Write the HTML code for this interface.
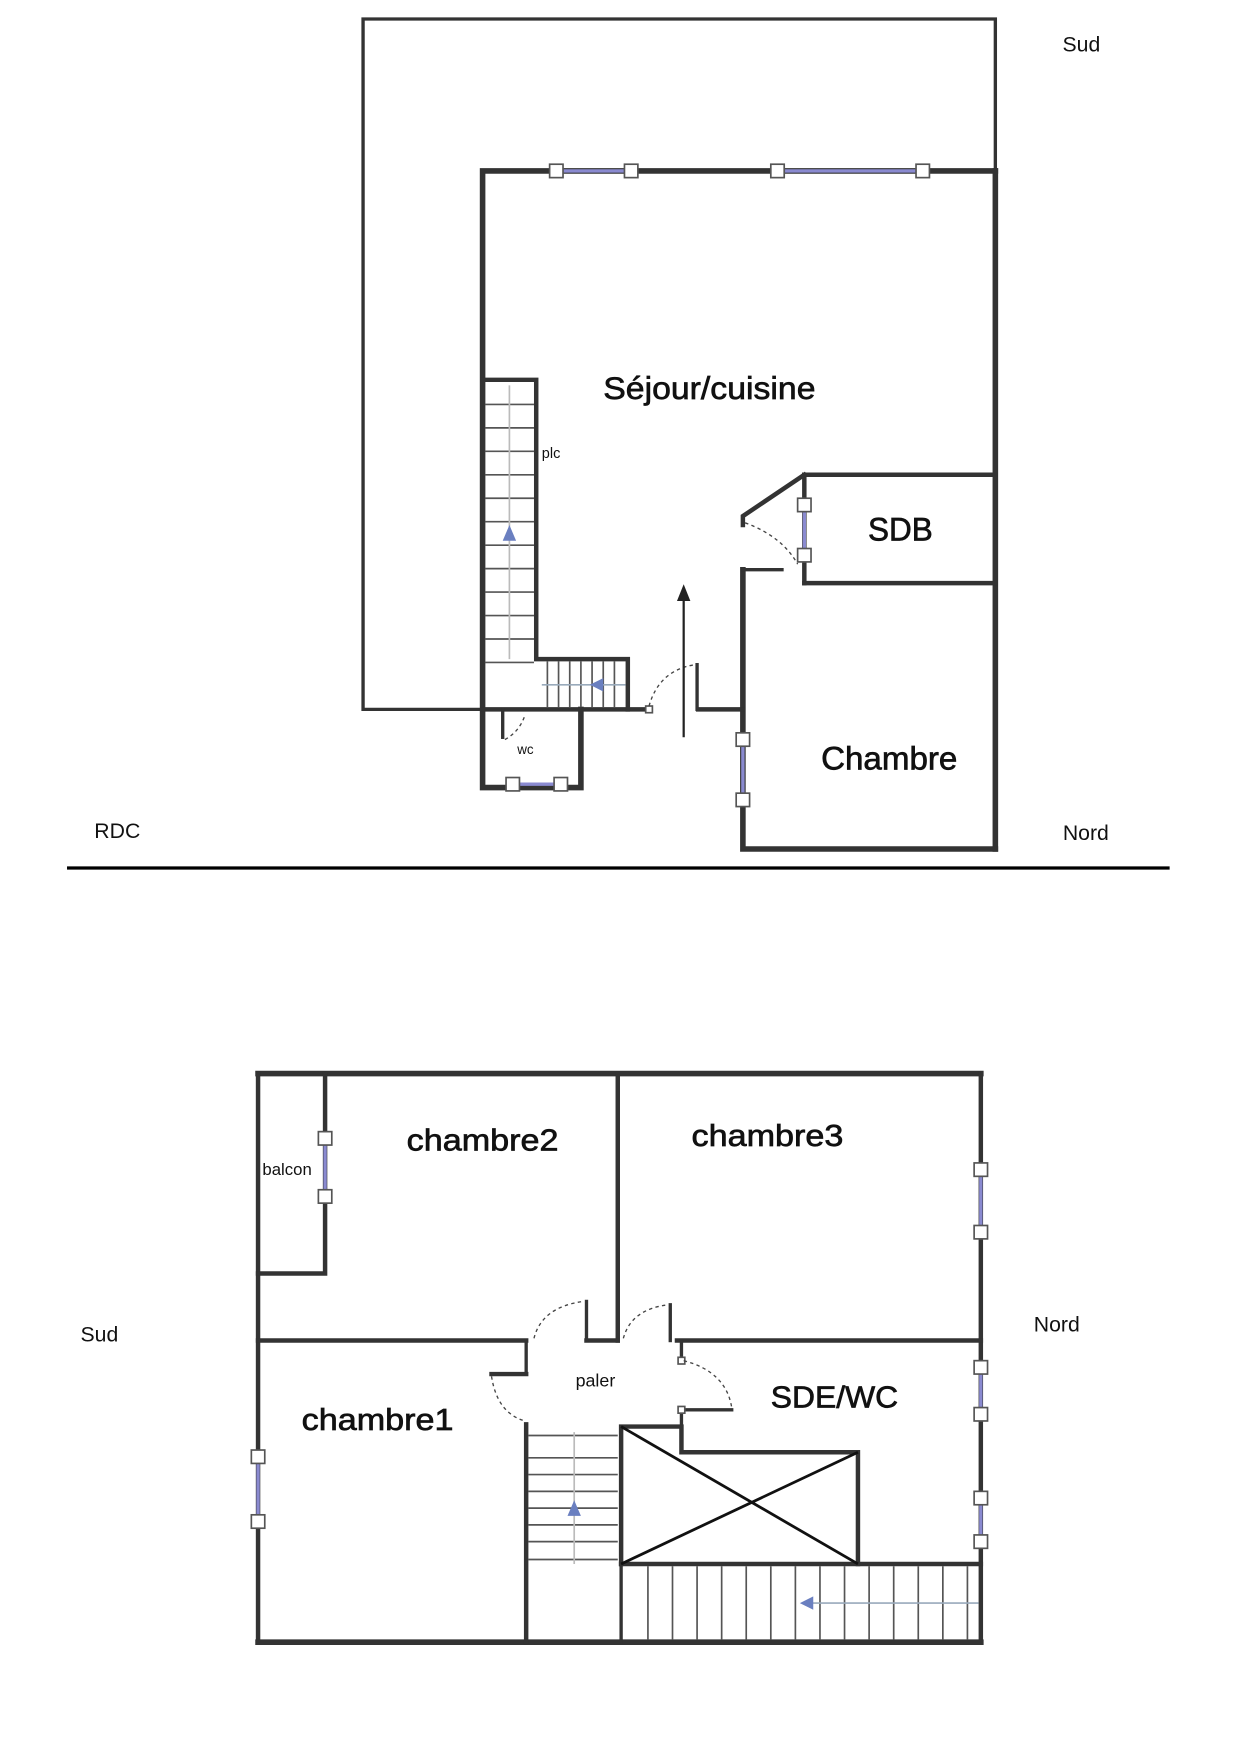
<!DOCTYPE html>
<html><head><meta charset="utf-8"><style>
html,body{margin:0;padding:0;background:#fff;}
svg{display:block}
text{font-family:"Liberation Sans",sans-serif;fill:#111}
.r{stroke:#111;stroke-width:0.6}
</style></head><body>
<svg width="1240" height="1755" viewBox="0 0 1110 1571" xmlns="http://www.w3.org/2000/svg">
<rect width="1110" height="1571" fill="#fff"/>
<g fill="none" stroke="#333" stroke-linecap="square">
<polyline points="432,635 325,635 325,17 891,17 891,153" stroke-width="3"/>
<polyline points="891,153 432,153 432,705 520,705 520,635" stroke-width="5"/>
<line x1="891" y1="153" x2="891" y2="760" stroke-width="5"/>
<polyline points="665,510 665,760 891,760" stroke-width="5"/>
<line x1="432" y1="635" x2="580" y2="635" stroke-width="4"/>
<line x1="625" y1="635" x2="665" y2="635" stroke-width="4"/>
<line x1="624" y1="595" x2="624" y2="635" stroke-width="3"/>
<polyline points="432,340 480,340 480,590 562,590 562,635" stroke-width="4"/>
<line x1="450" y1="635" x2="450" y2="660" stroke-width="3"/>
<line x1="720" y1="425" x2="891" y2="425" stroke-width="4"/>
<line x1="720" y1="522" x2="891" y2="522" stroke-width="4"/>
<line x1="720" y1="425" x2="720" y2="522" stroke-width="4"/>
<polyline points="720,425 665,462 665,470" stroke-width="4"/>
<line x1="665" y1="510" x2="700" y2="510" stroke-width="3"/>
</g>
<g stroke="#555" stroke-width="1.5">
<line x1="434" y1="362" x2="478" y2="362"/><line x1="434" y1="383" x2="478" y2="383"/>
<line x1="434" y1="404" x2="478" y2="404"/><line x1="434" y1="425" x2="478" y2="425"/>
<line x1="434" y1="446" x2="478" y2="446"/><line x1="434" y1="467" x2="478" y2="467"/>
<line x1="434" y1="488" x2="478" y2="488"/><line x1="434" y1="509" x2="478" y2="509"/>
<line x1="434" y1="530" x2="478" y2="530"/><line x1="434" y1="551" x2="478" y2="551"/>
<line x1="434" y1="572" x2="478" y2="572"/><line x1="434" y1="593" x2="478" y2="593"/>
<line x1="490" y1="592" x2="490" y2="633"/><line x1="500" y1="592" x2="500" y2="633"/>
<line x1="510" y1="592" x2="510" y2="633"/><line x1="520" y1="592" x2="520" y2="633"/>
<line x1="530" y1="592" x2="530" y2="633"/><line x1="540" y1="592" x2="540" y2="633"/>
<line x1="550" y1="592" x2="550" y2="633"/>
</g>
<line x1="456" y1="345" x2="456" y2="590" stroke="#bbb" stroke-width="1.5"/>
<line x1="485" y1="613" x2="560" y2="613" stroke="#9ab" stroke-width="1.5"/>
<polygon points="456,470 450,484 462,484" fill="#6a7fc0"/>
<polygon points="528,613 540,607 540,619" fill="#6a7fc0"/>
<g stroke="#8a8ad0" stroke-width="3"><line x1="498" y1="153" x2="565" y2="153"/><line x1="696" y1="153" x2="826" y2="153"/>
<line x1="459" y1="702" x2="502" y2="702"/><line x1="665" y1="662" x2="665" y2="716"/><line x1="720" y1="452" x2="720" y2="497"/></g>
<g fill="#fff" stroke="#555" stroke-width="1.5">
<rect x="492" y="147" width="12" height="12"/><rect x="559" y="147" width="12" height="12"/>
<rect x="690" y="147" width="12" height="12"/><rect x="820" y="147" width="12" height="12"/>
<rect x="453" y="696" width="12" height="12"/><rect x="496" y="696" width="12" height="12"/>
<rect x="659" y="656" width="12" height="12"/><rect x="659" y="710" width="12" height="12"/>
<rect x="714" y="446" width="12" height="12"/><rect x="714" y="491" width="12" height="12"/>
<rect x="578" y="632" width="6" height="6"/>
</g>
<g fill="none" stroke="#444" stroke-width="1.2" stroke-dasharray="3,3">
<path d="M581,632 Q590,600 622,595"/><path d="M667,468 Q700,480 714,505"/><path d="M452,662 Q465,655 470,640"/>
</g>
<line x1="612" y1="660" x2="612" y2="535" stroke="#222" stroke-width="2"/>
<polygon points="612,523 606,538 618,538" fill="#222"/>
<text class="r" x="635" y="357" font-size="28" text-anchor="middle" textLength="190" lengthAdjust="spacingAndGlyphs">Séjour/cuisine</text>
<text class="r" x="806" y="484" font-size="29" text-anchor="middle" textLength="58" lengthAdjust="spacingAndGlyphs">SDB</text>
<text class="r" x="796" y="689" font-size="29" text-anchor="middle" textLength="122" lengthAdjust="spacingAndGlyphs">Chambre</text>
<text x="485" y="410" font-size="13" fill="#555">plc</text>
<text x="463" y="675" font-size="12" fill="#555">wc</text>
<text x="968" y="46" font-size="19" text-anchor="middle">Sud</text>
<text x="972" y="752" font-size="19" text-anchor="middle">Nord</text>
<text x="105" y="750" font-size="19" text-anchor="middle">RDC</text>
<line x1="60" y1="777" x2="1047" y2="777" stroke="#000" stroke-width="3"/>

<g fill="none" stroke="#333" stroke-linecap="square">
<line x1="231" y1="961" x2="878" y2="961" stroke-width="5"/>
<line x1="231" y1="961" x2="231" y2="1470" stroke-width="4"/>
<line x1="878" y1="961" x2="878" y2="1470" stroke-width="4"/>
<line x1="231" y1="1470" x2="878" y2="1470" stroke-width="5"/>
<polyline points="291,961 291,1140 231,1140" stroke-width="4"/>
<line x1="553" y1="961" x2="553" y2="1200" stroke-width="4"/>
<line x1="231" y1="1200" x2="471" y2="1200" stroke-width="4"/>
<line x1="525" y1="1200" x2="553" y2="1200" stroke-width="4"/>
<line x1="606" y1="1200" x2="878" y2="1200" stroke-width="4"/>
<line x1="525" y1="1165" x2="525" y2="1200" stroke-width="3"/>
<line x1="600" y1="1168" x2="600" y2="1200" stroke-width="3"/>
<line x1="471" y1="1200" x2="471" y2="1230" stroke-width="3"/>
<line x1="440" y1="1230" x2="471" y2="1230" stroke-width="4"/>
<line x1="471" y1="1275" x2="471" y2="1470" stroke-width="4"/>
<line x1="610" y1="1200" x2="610" y2="1215" stroke-width="3"/>
<line x1="610" y1="1262" x2="610" y2="1300" stroke-width="3"/>
<line x1="610" y1="1262" x2="655" y2="1262" stroke-width="3"/>
<polyline points="556,1400 556,1277 610,1277 610,1300 768,1300 768,1400" stroke-width="4"/>
<line x1="556" y1="1400" x2="878" y2="1400" stroke-width="4"/>
<line x1="556" y1="1400" x2="556" y2="1470" stroke-width="3"/>
</g>
<g stroke="#111" stroke-width="2.5"><line x1="556" y1="1277" x2="768" y2="1400"/><line x1="768" y1="1300" x2="556" y2="1400"/></g>
<g stroke="#555" stroke-width="1.5">
<line x1="473" y1="1285" x2="553" y2="1285"/><line x1="473" y1="1305" x2="553" y2="1305"/>
<line x1="473" y1="1320" x2="553" y2="1320"/><line x1="473" y1="1335" x2="553" y2="1335"/>
<line x1="473" y1="1350" x2="553" y2="1350"/><line x1="473" y1="1365" x2="553" y2="1365"/>
<line x1="473" y1="1380" x2="553" y2="1380"/><line x1="473" y1="1396" x2="553" y2="1396"/>
<line x1="580" y1="1402" x2="580" y2="1468"/><line x1="602" y1="1402" x2="602" y2="1468"/>
<line x1="624" y1="1402" x2="624" y2="1468"/><line x1="646" y1="1402" x2="646" y2="1468"/>
<line x1="668" y1="1402" x2="668" y2="1468"/><line x1="690" y1="1402" x2="690" y2="1468"/>
<line x1="712" y1="1402" x2="712" y2="1468"/><line x1="734" y1="1402" x2="734" y2="1468"/>
<line x1="756" y1="1402" x2="756" y2="1468"/><line x1="778" y1="1402" x2="778" y2="1468"/>
<line x1="800" y1="1402" x2="800" y2="1468"/><line x1="822" y1="1402" x2="822" y2="1468"/>
<line x1="844" y1="1402" x2="844" y2="1468"/><line x1="866" y1="1402" x2="866" y2="1468"/>
</g>
<line x1="514" y1="1282" x2="514" y2="1400" stroke="#bbb" stroke-width="1.5"/>
<line x1="720" y1="1435" x2="876" y2="1435" stroke="#9ab" stroke-width="1.5"/>
<polygon points="514,1343 508,1357 520,1357" fill="#6a7fc0"/>
<polygon points="716,1435 728,1429 728,1441" fill="#6a7fc0"/>
<g stroke="#8a8ad0" stroke-width="3"><line x1="291" y1="1019" x2="291" y2="1071"/>
<line x1="231" y1="1304" x2="231" y2="1362"/><line x1="878" y1="1047" x2="878" y2="1103"/>
<line x1="878" y1="1224" x2="878" y2="1266"/><line x1="878" y1="1341" x2="878" y2="1380"/></g>
<g fill="#fff" stroke="#555" stroke-width="1.5">
<rect x="285" y="1013" width="12" height="12"/><rect x="285" y="1065" width="12" height="12"/>
<rect x="225" y="1298" width="12" height="12"/><rect x="225" y="1356" width="12" height="12"/>
<rect x="872" y="1041" width="12" height="12"/><rect x="872" y="1097" width="12" height="12"/>
<rect x="872" y="1218" width="12" height="12"/><rect x="872" y="1260" width="12" height="12"/>
<rect x="872" y="1335" width="12" height="12"/><rect x="872" y="1374" width="12" height="12"/>
<rect x="607" y="1215" width="6" height="6"/><rect x="607" y="1259" width="6" height="6"/>
</g>
<g fill="none" stroke="#444" stroke-width="1.2" stroke-dasharray="3,3">
<path d="M478,1198 Q485,1170 522,1165"/><path d="M558,1198 Q565,1172 598,1168"/>
<path d="M612,1218 Q650,1228 655,1260"/><path d="M440,1232 Q445,1265 470,1272"/>
</g>
<text class="r" x="432" y="1030" font-size="27" text-anchor="middle" textLength="136" lengthAdjust="spacingAndGlyphs">chambre2</text>
<text class="r" x="687" y="1026" font-size="27" text-anchor="middle" textLength="136" lengthAdjust="spacingAndGlyphs">chambre3</text>
<text class="r" x="338" y="1280" font-size="27" text-anchor="middle" textLength="136" lengthAdjust="spacingAndGlyphs">chambre1</text>
<text class="r" x="747" y="1260" font-size="27" text-anchor="middle" textLength="114" lengthAdjust="spacingAndGlyphs">SDE/WC</text>
<text x="533" y="1241" font-size="16" text-anchor="middle" fill="#555">paler</text>
<text x="257" y="1052" font-size="15" text-anchor="middle" fill="#555">balcon</text>
<text x="89" y="1201" font-size="19" text-anchor="middle">Sud</text>
<text x="946" y="1192" font-size="19" text-anchor="middle">Nord</text>
</svg>
</body></html>
